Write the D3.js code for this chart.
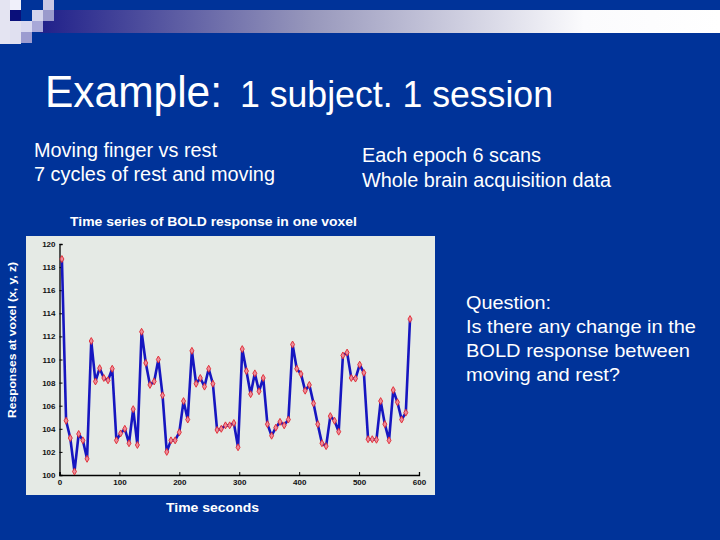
<!DOCTYPE html>
<html>
<head>
<meta charset="utf-8">
<script src="https://cdn.jsdelivr.net/npm/d3@7"></script>
<style>
  body { margin: 0; background: #003399; }
  svg { display: block; }
</style>
</head>
<body>
<svg id="slide"></svg>
<script>
// BOLD signal of one voxel, one value per scan (84 scans, 7 s apart)
var scanTimes = [4, 11, 18, 25, 32, 39, 46, 53, 60, 67, 74, 81, 88, 95, 102, 109, 116, 123, 130, 137,
  144, 151, 158, 165, 172, 179, 186, 193, 200, 207, 214, 221, 228, 235, 242, 249, 256, 263, 270, 277,
  284, 291, 298, 305, 312, 319, 326, 333, 340, 347, 354, 361, 368, 375, 382, 389, 396, 403, 410, 417,
  424, 431, 438, 445, 452, 459, 466, 473, 480, 487, 494, 501, 508, 515, 522, 529, 536, 543, 550, 557,
  564, 571, 578, 585];
var boldValues = [118.7, 104.7, 103.2, 100.3, 103.55, 103.0, 101.4, 111.6, 108.1, 109.25,
  108.4, 108.2, 109.2, 103.0, 103.6, 104.0, 102.75, 105.7, 102.6, 112.4,
  109.7, 107.8, 108.1, 110.0, 106.9, 102.0, 103.0, 103.0, 103.7, 106.4,
  104.8, 110.75, 107.9, 108.4, 107.65, 109.2, 107.9, 103.9, 104.0, 104.3,
  104.3, 104.5, 102.4, 110.9, 109.0, 107.0, 108.8, 107.25, 108.4, 104.4,
  103.4, 104.1, 104.6, 104.3, 104.8, 111.3, 109.2, 108.75, 107.3, 107.8,
  106.2, 104.4, 102.75, 102.5, 105.1, 104.7, 103.75, 110.35, 110.6, 108.4,
  108.35, 109.55, 108.85, 103.1, 103.1, 103.05, 106.4, 104.4, 103.0, 107.35,
  106.3, 104.8, 105.4, 113.5];
var xTicks = [0, 100, 200, 300, 400, 500, 600];
var yTicks = [100, 102, 104, 106, 108, 110, 112, 114, 116, 118, 120];

var W = 720, H = 540;
var svg = d3.select("#slide").attr("width", W).attr("height", H);
var defs = svg.append("defs");

// top band
var grad = defs.append("linearGradient").attr("id", "band");
grad.append("stop").attr("offset", "0%").attr("stop-color", "#20208a");
grad.append("stop").attr("offset", "40%").attr("stop-color", "#9898bc");
grad.append("stop").attr("offset", "80%").attr("stop-color", "#fbfbfd");
grad.append("stop").attr("offset", "100%").attr("stop-color", "#ffffff");
svg.append("rect").attr("x", 40).attr("y", 10).attr("width", 680).attr("height", 23)
  .attr("fill", "url(#band)");

// little squares in the corner
var sq = [
  [0, 0, 10, 44, "#e4e4f2"], [10, 0, 11, 10, "#f0f0fa"], [10, 21, 11, 23, "#e0e0f0"],
  [10, 10, 11, 11, "#0a0f7a"], [43, 0, 11, 10, "#c8c8e4"], [32, 10, 11, 11, "#d4d4ec"],
  [43, 10, 11, 11, "#9a9acc"], [21, 21, 11, 11, "#d8d8f0"], [32, 21, 11, 11, "#a8a8d8"],
  [21, 32, 11, 11, "#9c9cd0"]
];
svg.selectAll("rect.sq").data(sq).enter().append("rect").attr("class", "sq")
  .attr("x", d => d[0]).attr("y", d => d[1]).attr("width", d => d[2]).attr("height", d => d[3])
  .attr("fill", d => d[4]);

// text helper: fixed width so the narrow slide font is imitated
function txt(x, y, s, size, width, bold) {
  return svg.append("text").attr("x", x).attr("y", y).attr("fill", "white")
    .attr("font-family", "Liberation Sans, Arial, sans-serif")
    .attr("font-size", size).attr("font-weight", bold ? "bold" : "normal")
    .attr("textLength", width).attr("lengthAdjust", "spacingAndGlyphs")
    .text(s);
}

txt(45, 107, "Example:", 44, 177);
txt(240, 107, "1 subject. 1 session", 36, 313);

txt(34, 157, "Moving finger vs rest", 20, 183);
txt(34, 181, "7 cycles of rest and moving", 20, 241);
txt(362, 162, "Each epoch 6 scans", 19.5, 179);
txt(362, 187, "Whole brain acquisition data", 19.5, 249);

var question = ["Question:", "Is there any change in the", "BOLD response between", "moving and rest?"];
var qWidth = [85, 230, 224, 154];
question.forEach((s, i) => txt(466, 309 + i * 24, s, 18.5, qWidth[i]));

txt(70, 226, "Time series of BOLD response in one voxel", 12.5, 287, true);

// chart panel
svg.append("rect").attr("x", 26).attr("y", 236).attr("width", 409).attr("height", 259)
  .attr("fill", "#e5eae5");

var x = d3.scaleLinear().domain([0, 600]).range([59.5, 419]);
var y = d3.scaleLinear().domain([100, 120]).range([475, 244]);

var gx = svg.append("g").attr("transform", "translate(0,475)")
  .call(d3.axisBottom(x).tickValues(xTicks).tickSize(-3).tickPadding(4).tickFormat(d3.format("d")));
var gy = svg.append("g").attr("transform", "translate(59.5,0)")
  .call(d3.axisLeft(y).tickValues(yTicks).tickSize(-3).tickPadding(4).tickFormat(d3.format("d")));
[gx, gy].forEach(function(g) {
  g.select(".domain").attr("stroke", "black").attr("stroke-width", 1.3);
  g.selectAll(".tick line").attr("stroke", "black");
  g.selectAll("text").attr("fill", "#111").attr("font-size", 8).attr("font-weight", "bold")
    .attr("font-family", "Liberation Sans, Arial, sans-serif");
});

var pts = scanTimes.map((t, i) => [t, boldValues[i]]);
svg.append("path").datum(pts)
  .attr("fill", "none").attr("stroke", "#1616c0").attr("stroke-width", 2.6)
  .attr("stroke-linejoin", "round")
  .attr("d", d3.line().x(d => x(d[0])).y(d => y(d[1])));

svg.selectAll("path.mk").data(pts).enter().append("path").attr("class", "mk")
  .attr("transform", d => "translate(" + x(d[0]) + "," + y(d[1]) + ")")
  .attr("d", d3.symbol(d3.symbolDiamond, 14))
  .attr("fill", "#ee8c9a").attr("stroke", "#e02830").attr("stroke-width", 0.9);

// axis titles
txt(166, 512, "Time seconds", 12.5, 93, true);
svg.append("text").attr("transform", "translate(16,340) rotate(-90)").attr("text-anchor", "middle")
  .attr("fill", "white").attr("font-family", "Liberation Sans, Arial, sans-serif")
  .attr("font-weight", "bold").attr("font-size", 11.5)
  .attr("textLength", 156).attr("lengthAdjust", "spacingAndGlyphs")
  .text("Responses at voxel (x, y, z)");
</script>
</body>
</html>
